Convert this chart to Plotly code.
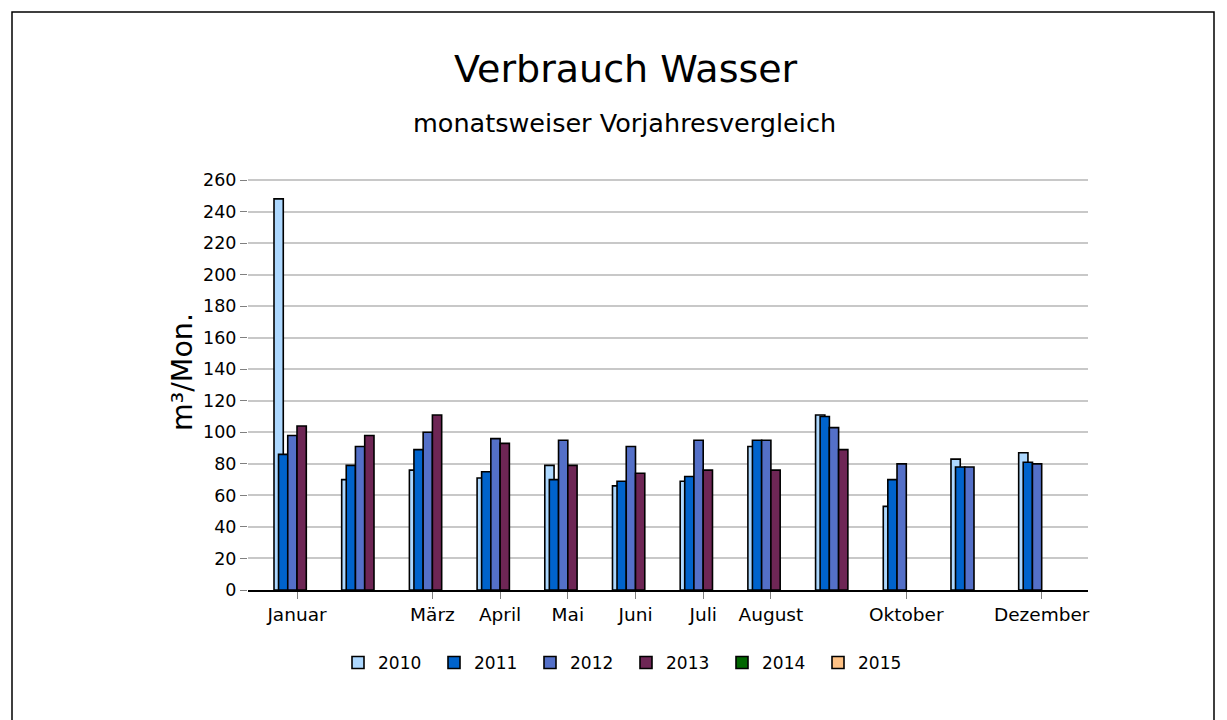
import plotly.graph_objects as go

# ---- data ----
months = ["Januar", "Februar", "März", "April", "Mai", "Juni", "Juli",
          "August", "September", "Oktober", "November", "Dezember"]
shown_months = ["Januar", "März", "April", "Mai", "Juni", "Juli",
                "August", "Oktober", "Dezember"]
years = ["2010", "2011", "2012", "2013", "2014", "2015"]
v2010 = [248, 70, 76, 71, 79, 66, 69, 91, 111, 53, 83, 87]
v2011 = [86, 79, 89, 75, 70, 69, 72, 95, 110, 70, 78, 81]
v2012 = [98, 91, 100, 96, 95, 91, 95, 95, 103, 80, 78, 80]
v2013 = [104, 98, 111, 93, 79, 74, 76, 76, 89, None, None, None]
v2014 = [None] * 12
v2015 = [None] * 12
series = [v2010, v2011, v2012, v2013, v2014, v2015]
y_ticks = list(range(0, 261, 20))

# ---- style ----
colors = ["#ADD8FF", "#0063CC", "#5470C8", "#6E2655", "#006600", "#FFC285"]
offsets = [-0.34, -0.273, -0.137, 0.0, 0.137, 0.274]
bar_w = 0.137
FONT = "DejaVu Sans"

OFF = 8  # page body margin
W, H = 1227 - OFF, 720 - OFF
L, R, T, B = 248 - OFF, 1088 - OFF, 177 - OFF, 590 - OFF
pw, ph = R - L, B - T


def px(x):
    return (x - OFF - L) / pw


def py(y):
    return (B - (y - OFF)) / ph


fig = go.Figure()
for yr, vals, c, off in zip(years, series, colors, offsets):
    fig.add_trace(go.Bar(
        x=months, y=vals, name=yr,
        marker=dict(color=c, line=dict(color="black", width=1.6)),
        offset=off, width=bar_w,
    ))

fig.update_layout(
    width=W, height=H,
    margin=dict(l=L, r=W - R, t=T, b=H - B, pad=0),
    paper_bgcolor="white", plot_bgcolor="white",
    barmode="overlay",
    font=dict(family=FONT, color="black", size=17),
    showlegend=True,
    legend=dict(orientation="h", x=px(626), xanchor="center",
                y=py(663), yanchor="middle", entrywidth=51,
                font=dict(family=FONT, size=17, color="black"),
                bgcolor="rgba(0,0,0,0)"),
    xaxis=dict(type="category", categoryorder="array", categoryarray=months,
               range=[-0.724, 11.684],
               tickmode="array", tickvals=shown_months, ticktext=shown_months,
               ticks="outside", ticklen=7, tickcolor="#808080",
               showline=True, linecolor="black", linewidth=2,
               showgrid=False, zeroline=False,
               tickfont=dict(family=FONT, size=18.5, color="black")),
    yaxis=dict(range=[0, 261.9], tickmode="array", tickvals=y_ticks,
               ticks="outside", ticklen=7, tickcolor="#808080",
               showgrid=True, gridcolor="#C8C8C8", gridwidth=1.5,
               showline=False, zeroline=False,
               tickfont=dict(family=FONT, size=17.5, color="black")),
    annotations=[
        dict(text="Verbrauch Wasser", x=px(626), y=py(69), xref="paper", yref="paper",
             xanchor="center", yanchor="middle", showarrow=False,
             font=dict(family=FONT, size=38, color="black")),
        dict(text="monatsweiser Vorjahresvergleich", x=px(624), y=py(123),
             xref="paper", yref="paper", xanchor="center", yanchor="middle",
             showarrow=False, font=dict(family=FONT, size=25.5, color="black")),
        dict(text="m³/Mon.", x=px(182), y=py(372), xref="paper", yref="paper",
             xanchor="center", yanchor="middle", textangle=-90, showarrow=False,
             font=dict(family=FONT, size=28.5, color="black")),
    ],
    shapes=[
        dict(type="rect", xref="paper", yref="paper",
             x0=px(12), x1=px(1214), y0=py(760), y1=py(12),
             line=dict(color="black", width=1.5), fillcolor="rgba(0,0,0,0)",
             layer="below"),
    ],
)

fig.write_html("out.html")
